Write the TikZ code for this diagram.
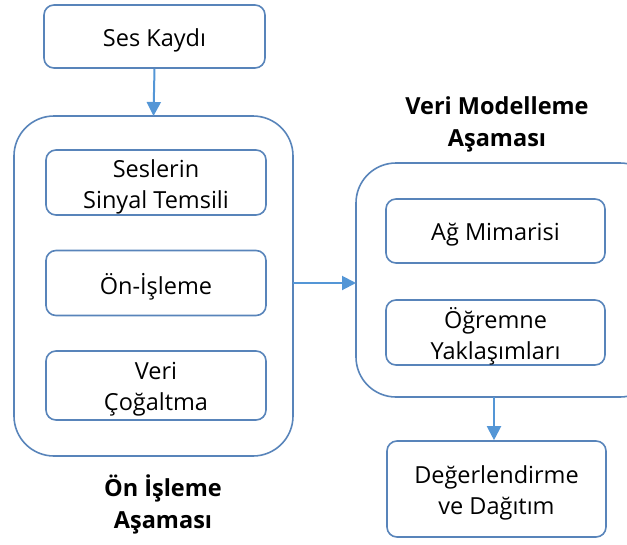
\documentclass[tikz,border=0pt]{standalone}
\usepackage{fontspec}
\setmainfont{Open Sans}
\usetikzlibrary{arrows.meta}
\definecolor{boxline}{RGB}{88,132,186}
\definecolor{arrowline}{RGB}{84,150,214}
\begin{document}
\begin{tikzpicture}[x=1pt,y=-1pt,
  stepbox/.style={draw=boxline, line width=1.6pt, rounded corners=10pt, inner sep=0pt},
  steptext/.style={align=center, font=\fontsize{23.5}{31}\selectfont, inner sep=0pt, yshift=-4pt},
  stagebox/.style={draw=boxline, line width=1.6pt, rounded corners=40pt},
  stagelabel/.style={align=center, font=\fontsize{23.5}{32}\selectfont\bfseries},
  flow/.style={draw=arrowline, line width=2pt, -{Triangle[length=14pt,width=14pt]}}]
\useasboundingbox (0,0) rectangle (627,544);

% recording step
\node[stepbox, minimum width=221pt, minimum height=63pt,
  label={[steptext]center:Ses Kaydı}] (rec) at (154.5,36.5) {};

% preprocessing stage
\draw[stagebox] (14,116) rectangle (293,456);
\coordinate (preTop) at (153.5,116);
\coordinate (preRight) at (293,283);
\node[stepbox, minimum width=220pt, minimum height=65pt,
  label={[steptext]center:{Seslerin\\Sinyal Temsili}}] (sig) at (156,182.5) {};
\node[stepbox, minimum width=220pt, minimum height=65pt,
  label={[steptext]center:Ön-İşleme}] (pre) at (156,283) {};
\node[stepbox, minimum width=220pt, minimum height=69pt,
  label={[steptext]center:{Veri\\Çoğaltma}}] (aug) at (156,385.5) {};
\node[stagelabel] (preLabel) at (163,504) {Ön İşleme\\Aşaması};

% modelling stage
\draw[stagebox] (356,163) rectangle (660,397);
\coordinate (modLeft) at (356,283);
\coordinate (modBottom) at (494,397);
\node[stepbox, minimum width=219pt, minimum height=64pt,
  label={[steptext]center:Ağ Mimarisi}] (arch) at (495.5,231) {};
\node[stepbox, minimum width=219pt, minimum height=65pt,
  label={[steptext]center:{Öğremne\\Yaklaşımları}}] (learn) at (495.5,332.5) {};
\node[stagelabel] (modLabel) at (497,124) {Veri Modelleme\\Aşaması};

% evaluation step
\node[stepbox, minimum width=219pt, minimum height=96pt,
  label={[steptext]center:{Değerlendirme\\ve Dağıtım}}] (eval) at (496.5,489) {};

% connectors
\draw[flow] (rec.south) -- (preTop);
\draw[flow] (preRight) -- (modLeft);
\draw[flow] (modBottom) -- (eval.north -| modBottom);
\end{tikzpicture}
\end{document}
